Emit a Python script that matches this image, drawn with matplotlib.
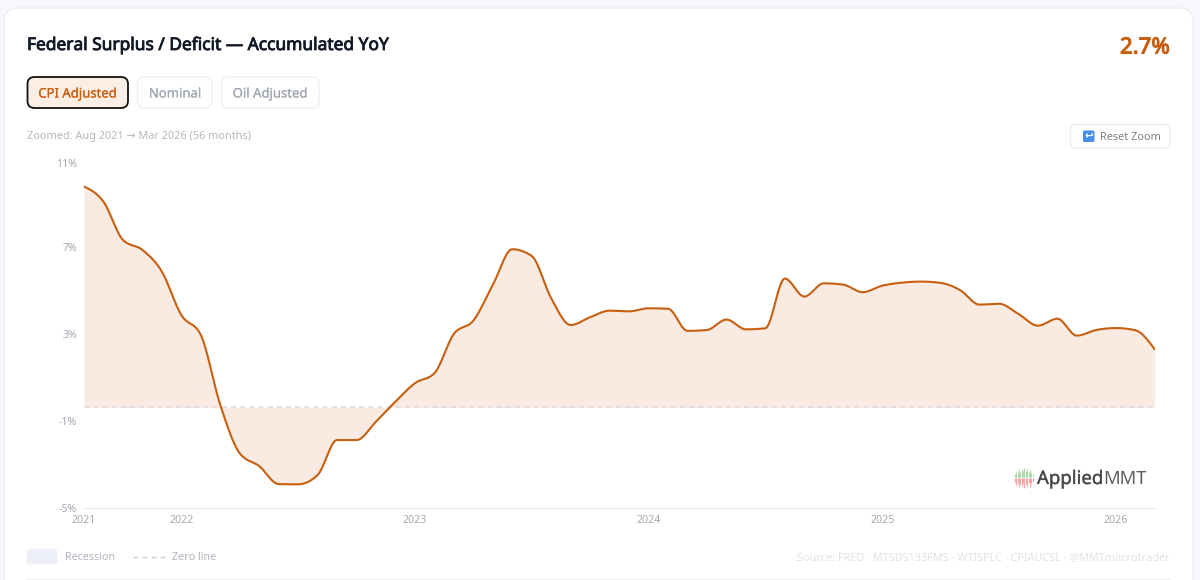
import numpy as np
import matplotlib
matplotlib.use("Agg")
import matplotlib.pyplot as plt
from matplotlib.patches import FancyBboxPatch, Rectangle
import matplotlib.patheffects as pe

plt.rcParams['font.family'] = ['Noto Sans', 'DejaVu Sans']

months_count = 56
yoy_values = [10.18, 9.48, 7.72, 7.26, 6.26, 4.26, 3.34, 0.12, -2.11, -2.70, -3.53, -3.54, -3.11, -1.50,
              -1.50, -0.65, 0.27, 1.12, 1.58, 3.39, 4.00, 5.65, 7.29, 6.98, 5.03, 3.80, 4.16, 4.46,
              4.43, 4.57, 4.55, 3.53, 3.57, 4.05, 3.60, 3.65, 5.94, 5.11, 5.72, 5.66, 5.31, 5.61,
              5.75, 5.80, 5.74, 5.41, 4.74, 4.78, 4.31, 3.77, 4.09, 3.31, 3.57, 3.66, 3.56, 2.68]
year_labels = ['2021', '2022', '2023', '2024', '2025', '2026']
year_positions = [0, 5, 17, 29, 41, 53]
y_tick_values = [-4.63, -0.62, 3.39, 7.39, 11.24]
y_tick_labels = ['-5%', '-1%', '3%', '7%', '11%']
logo_green = [3, 5, 4, 7, 5, 8, 6, 9, 6, 8, 5, 7, 4, 3]
logo_red = [4, 7, 5, 9, 6, 8, 5, 10, 6, 8, 5, 9, 5, 3]

ORANGE = '#c75f10'
W, H = 1200, 580


def monotone(x, y, per=16):
    """Monotone cubic curve through the monthly values (same shape as curveMonotoneX)."""
    x, y = np.asarray(x, float), np.asarray(y, float)
    h = np.diff(x)
    s = np.diff(y) / h
    m = np.zeros_like(y)
    for i in range(1, len(y) - 1):
        p = (s[i - 1] * h[i] + s[i] * h[i - 1]) / (h[i - 1] + h[i])
        m[i] = (np.sign(s[i - 1]) + np.sign(s[i])) * min(abs(s[i - 1]), abs(s[i]), 0.5 * abs(p))
    m[0] = (3 * s[0] - m[1]) / 2
    m[-1] = (3 * s[-1] - m[-2]) / 2
    xs, ys = [], []
    for i in range(len(h)):
        t = np.linspace(0, 1, per, endpoint=False)
        xs.append(x[i] + t * h[i])
        ys.append((2*t**3 - 3*t**2 + 1) * y[i] + (t**3 - 2*t**2 + t) * h[i] * m[i]
                  + (-2*t**3 + 3*t**2) * y[i + 1] + (t**3 - t**2) * h[i] * m[i + 1])
    return np.append(np.concatenate(xs), x[-1]), np.append(np.concatenate(ys), y[-1])


def heavy(color, w=0.55):
    return [pe.withStroke(linewidth=w, foreground=color)]


fig = plt.figure(figsize=(W / 100, H / 100), dpi=100, facecolor='#f7f8fb')

# page chrome, in pixel coordinates
bg = fig.add_axes([0, 0, 1, 1], zorder=0)
bg.set_xlim(0, W)
bg.set_ylim(H, 0)
bg.axis('off')


def box(ax, x0, y0, x1, y1, fc, ec, lw=1.0, r=6):
    ax.add_patch(FancyBboxPatch((x0 + r, y0 + r), x1 - x0 - 2 * r, y1 - y0 - 2 * r,
                                boxstyle=f'round,pad={r},rounding_size={r}', fc=fc, ec=ec, lw=lw))


box(bg, 4, 8, 1193, 620, 'white', '#eceef4', 1.0, 14)
bg.text(27, 45, 'Federal Surplus / Deficit — Accumulated YoY', fontsize=12.5,
        color='#111827', va='center', ha='left', path_effects=heavy('#111827', 0.6))
bg.text(1170, 48, '2.7%', fontsize=16, color=ORANGE, va='center', ha='right',
        path_effects=heavy(ORANGE, 0.8))

box(bg, 27.5, 77, 128, 108, '#fbeee4', '#111111', 1.3, 7)
bg.text(77.5, 94, 'CPI Adjusted', fontsize=9.45, color=ORANGE, va='center', ha='center',
        path_effects=heavy(ORANGE, 0.1))
box(bg, 137.5, 77, 212, 108, 'white', '#eef0f4', 1.0, 7)
bg.text(175, 94, 'Nominal', fontsize=9.45, color='#a3a9b4', va='center', ha='center',
        path_effects=heavy('#a3a9b4', 0.1))
box(bg, 221.5, 77, 319, 108, 'white', '#eef0f4', 1.0, 7)
bg.text(270, 94, 'Oil Adjusted', fontsize=9.45, color='#a3a9b4', va='center', ha='center',
        path_effects=heavy('#a3a9b4', 0.1))

bg.text(27, 137, 'Zoomed: Aug 2021 → Mar 2026 (56 months)', fontsize=7.85, color='#b3b7c0', va='center', ha='left')

box(bg, 1070.5, 124.5, 1170, 148, 'white', '#eceef2', 1.0, 5)
box(bg, 1083, 130.5, 1094.5, 142, '#4a90e2', 'none', 0, 1.5)
bg.text(1088.8, 136, '↩', fontsize=7.5, color='white', va='center', ha='center', fontweight='bold',
        family='DejaVu Sans')
bg.text(1100, 137, 'Reset Zoom', fontsize=7.9, color='#7b808a', va='center', ha='left')

box(bg, 27, 549, 57, 564, '#eef0f7', '#eef0f7', 0.5, 3)
bg.text(65, 558, 'Recession', fontsize=7.7, color='#b0b4bd', va='center', ha='left')
bg.plot([133, 165], [557, 557], color='#c9ccd3', lw=1, ls=(0, (3.6, 2.9)))
bg.text(172, 558, 'Zero line', fontsize=7.75, color='#b0b4bd', va='center', ha='left')
bg.text(1170, 558, 'Source: FRED · MTSDS133FMS · WTISPLC · CPIAUCSL · @MMTmacrotrader', fontsize=7.85,
        color='#e0e2e7', va='center', ha='right')
bg.plot([27, 1170], [579, 579], color='#f0f1f4', lw=1)

# logo
lx = 1015 + np.arange(len(logo_green)) * 1.35
bg.vlines(lx, 477 - np.array(logo_green), 477, color='#a9d8a6', lw=0.8)
bg.vlines(lx, 477.5, 477.5 + np.array(logo_red), color='#f2a6a3', lw=0.8)
t = bg.text(1037, 479, 'Applied', fontsize=13.4, color='#4a4a4a', va='center', ha='left',
            path_effects=heavy('#4a4a4a', 0.25))
fig.canvas.draw()
ext = t.get_window_extent()
bg.text(ext.x1 + 0.2, 479, 'MMT', fontsize=13.3, color='#5f5f5f', va='center', ha='left')

# chart
ax = fig.add_axes([84 / W, 1 - 508 / H, (1154.7 - 84) / W, (508 - 163.5) / H], zorder=1)
ax.patch.set_alpha(0)
xv = np.arange(months_count)
cx, cy = monotone(xv, yoy_values)
ax.fill_between(cx, cy, 0, color='#f9ebe1', lw=0, zorder=1)
ax.axhline(0, color='#d9dce3', lw=1.1, ls=(0, (3.5, 2.5)), zorder=2)
ax.plot(cx, cy, color=ORANGE, lw=1.5, zorder=3, solid_capstyle='round')
ax.set_xlim(0, months_count - 1)
ax.set_ylim(y_tick_values[0], y_tick_values[-1])
for s in ['top', 'right', 'left']:
    ax.spines[s].set_visible(False)
ax.spines['bottom'].set_color('#e8eaee')
ax.spines['bottom'].set_linewidth(0.9)
ax.set_xticks(year_positions, year_labels)
ax.set_yticks(y_tick_values, y_tick_labels)
ax.tick_params(axis='x', length=0, pad=5, labelsize=7.6, labelcolor='#a3a7b0')
ax.tick_params(axis='y', length=0, pad=5, labelsize=7.6, labelcolor='#a3a7b0')

fig.savefig('out.png', dpi=100, facecolor=fig.get_facecolor())
